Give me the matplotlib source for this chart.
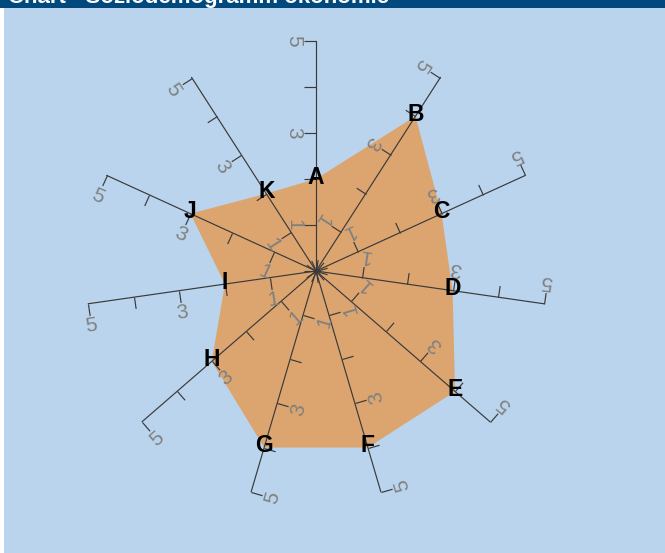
import numpy as np
import matplotlib
matplotlib.use("Agg")
import matplotlib.pyplot as plt
from matplotlib.path import Path
from matplotlib.markers import MarkerStyle
from matplotlib.transforms import Affine2D
from matplotlib.patches import Rectangle

plt.rcParams["font.family"] = ["Liberation Sans", "DejaVu Sans"]

# ---- data -------------------------------------------------------------
categories = ["A", "B", "C", "D", "E", "F", "G", "H", "I", "J", "K"]
values = [2, 4, 3, 3, 4, 4, 4, 3, 2, 3, 2]
tick_values = [0, 1, 2, 3, 4, 5]
labeled_values = [1, 3, 5]
title = "Chart - Soziodemogramm ökonomie"

# ---- style ------------------------------------------------------------
W, H, DPI = 665, 553, 100
BG = "#b9d4ec"
BAND = "#01497c"
FILL = "#dca570"
AXIS = "#3a3a3a"
TICK_TEXT = "#808080"
PX = 72.0 / DPI  # points per pixel

fig = plt.figure(figsize=(W / DPI, H / DPI), dpi=DPI, facecolor=BG)

# white strip on the left and the header band
fig.patches.append(Rectangle((0, 0), 4 / W, 1, transform=fig.transFigure,
                             facecolor="white", edgecolor="none", zorder=0))
fig.patches.append(Rectangle((0, 1 - 8 / H), 1, 8 / H, transform=fig.transFigure,
                             facecolor=BAND, edgecolor="none", zorder=1))
fig.text(8 / W, 1 - 2.5 / H, title, color="white", fontsize=16,
         fontweight="bold", ha="left", va="baseline")

# polar axes: centre and outer radius in pixels
cx, cy, R = 316, 271, 230
ax = fig.add_axes([(cx - R) / W, (H - cy - R) / H, 2 * R / W, 2 * R / H],
                  projection="polar")
ax.set_theta_zero_location("N")
ax.set_theta_direction(-1)
ax.set_ylim(0, max(tick_values))
ax.axis("off")

n = len(categories)
thetas = np.arange(n) * 2 * np.pi / n

# filled profile
ax.fill(np.append(thetas, thetas[0]), np.append(values, values[0]),
        facecolor=FILL, edgecolor="none", zorder=1, clip_on=False)

# one radial axis per category with ticks on its left side
tick_path = Path([(0, 0), (-1, 0)], [Path.MOVETO, Path.LINETO])
for th in thetas:
    deg = np.degrees(th)
    ax.plot([th, th], [0, max(tick_values)], color=AXIS, lw=0.85,
            zorder=2, clip_on=False)
    marker = MarkerStyle(tick_path, fillstyle="none",
                         transform=Affine2D().rotate_deg(-deg))
    ax.plot([th] * len(tick_values), tick_values, linestyle="none",
            marker=marker, markersize=6 / PX * 2, markeredgewidth=0.85,
            markeredgecolor=AXIS, zorder=2, clip_on=False)
    # tick labels beside the ticks, rotated with the axis
    off = 20.5 * PX
    dx, dy = -np.cos(th) * off, np.sin(th) * off
    for v in labeled_values:
        ax.annotate(str(v), xy=(th, v), xytext=(dx, dy),
                    textcoords="offset points", ha="center",
                    va="center_baseline", rotation=-(90 + deg),
                    rotation_mode="anchor", fontsize=15,
                    color=TICK_TEXT, zorder=3, annotation_clip=False)

# category letters at each profile vertex
for th, v, c in zip(thetas, values, categories):
    ax.annotate(c, xy=(th, v), xytext=(0, 2 * PX), textcoords="offset points",
                ha="center", va="center", fontsize=16.5, fontweight="bold",
                color="black", zorder=4, annotation_clip=False)

fig.savefig("out.png", dpi=DPI, facecolor=BG)
